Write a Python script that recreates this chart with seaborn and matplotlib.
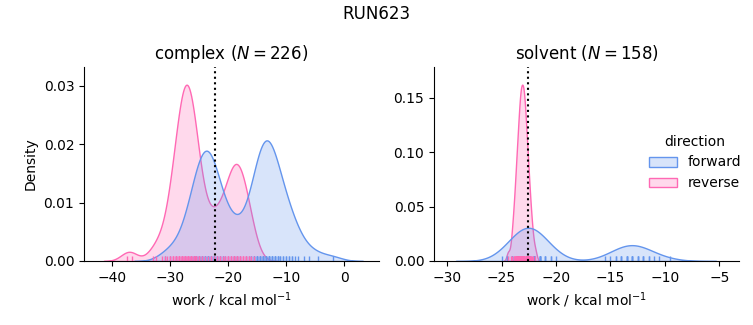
import numpy as np
import pandas as pd
import seaborn as sns
import matplotlib
matplotlib.use("Agg")
import matplotlib.pyplot as plt

# ---- data: work values (kcal/mol) and number of samples at each ----
complex_fwd_work = [-31, -30, -29, -28, -27.5, -27, -26.5, -26, -25.5, -25, -24.5, -24, -23.5, -23,
                    -22.5, -22, -21.5, -21, -20.5, -20, -19.5, -19, -18.5, -18,
                    -17, -16.5, -16, -15.5, -15, -14.5, -14, -13.5, -13, -12.5, -12, -11.5, -11,
                    -10.5, -10, -9.5, -9, -8.5, -8, -7, -6, -4.5, -2]
complex_fwd_count = [1, 1, 1, 1, 1, 1, 2, 3, 3, 4, 4, 4, 5, 4,
                     4, 3, 2, 2, 1, 1, 1, 2, 2, 1,
                     1, 1, 2, 3, 4, 4, 5, 5, 5, 4, 4, 3, 2,
                     2, 2, 2, 2, 1, 1, 1, 1, 1, 1]

complex_rev_work = [-37.5, -36.7, -33, -32.5, -31.5, -31, -30.5, -30, -29.5, -29, -28.5, -28, -27.5,
                    -27, -26.5, -26, -25.5, -25, -24.5, -24, -23.5, -23, -22.5, -22, -21.5,
                    -21, -20.5, -20, -19.5, -19, -18.5, -18, -17.5, -17, -16.5, -16, -15.5]
complex_rev_count = [1, 1, 1, 1, 1, 1, 1, 2, 3, 4, 5, 6, 7,
                     7, 7, 5, 4, 3, 2, 1, 1, 2, 1, 2, 2,
                     1, 2, 3, 3, 4, 4, 3, 3, 3, 2, 1, 1]

solvent_fwd_work = [-25, -24.5, -24, -23.5, -23, -22.5, -22, -21.5, -21, -20.5, -20,
                    -15.5, -15, -14.5, -14, -13.5, -13, -12.5, -12, -11.5, -11, -10.5, -9.5]
solvent_fwd_count = [1, 2, 4, 6, 8, 9, 8, 6, 3, 2, 1,
                     1, 1, 2, 3, 4, 4, 3, 3, 2, 1, 1, 1]

solvent_rev_work = [-24.4, -24.1, -24.0, -23.9, -23.8, -23.7, -23.6, -23.5, -23.4, -23.3, -23.2, -23.1,
                    -23.0, -22.9, -22.8, -22.7, -22.6, -22.5, -22.4, -22.3, -22.2, -22.1, -21.9]
solvent_rev_count = [1, 1, 1, 2, 2, 3, 4, 4, 5, 6, 6, 6,
                     6, 6, 5, 4, 4, 3, 2, 2, 1, 1, 1]

phases = ["complex", "solvent"]
directions = ["forward", "reverse"]
title_n = {"complex": 226, "solvent": 158}
reference_line = {"complex": -22.3, "solvent": -22.6}
x_limits = {"complex": (-44.9, 6.0), "solvent": (-31.2, -3.2)}
run_name = "RUN623"

# ---- long table ----
groups = {
    ("complex", "forward"): (complex_fwd_work, complex_fwd_count),
    ("complex", "reverse"): (complex_rev_work, complex_rev_count),
    ("solvent", "forward"): (solvent_fwd_work, solvent_fwd_count),
    ("solvent", "reverse"): (solvent_rev_work, solvent_rev_count),
}
frames = []
for (ph, d), (w, c) in groups.items():
    vals = np.repeat(np.asarray(w, float), np.asarray(c, int))
    frames.append(pd.DataFrame({"work": vals, "phase": ph, "direction": d}))
df = pd.concat(frames, ignore_index=True)

palette = {"forward": "#6495ED", "reverse": "#FF69B4"}

g = sns.displot(
    data=df, x="work", hue="direction", col="phase",
    kind="kde", fill=True, rug=True, bw_adjust=0.7,
    hue_order=directions, col_order=phases, palette=palette,
    facet_kws=dict(sharex=False, sharey=False),
)

fig = g.figure
fig.set_dpi(100)
fig.set_size_inches(7.53, 3.25)

axes = g.axes.flatten()
axes[0].set_position([84 / 753, 1 - 261 / 325, 295 / 753, 194 / 325])
axes[1].set_position([434 / 753, 1 - 261 / 325, 305 / 753, 194 / 325])

for ax, ph in zip(axes, phases):
    ax.set_title(f"{ph} ($N = {title_n[ph]}$)", fontsize=12)
    ax.axvline(reference_line[ph], color="black", ls=":", lw=1.5)
    ax.set_xlim(*x_limits[ph])
    ax.set_xlabel("work / kcal mol$^{-1}$", fontsize=10)
    ax.tick_params(labelsize=10)
axes[0].set_ylabel("Density", fontsize=10)
axes[1].set_ylabel("")

sns.move_legend(g, "center left", bbox_to_anchor=(0.845, 0.50), frameon=False)
g.legend.set_title("direction")
fig.suptitle(run_name, y=0.985, fontsize=12)

fig.savefig("out.png", dpi=100)
